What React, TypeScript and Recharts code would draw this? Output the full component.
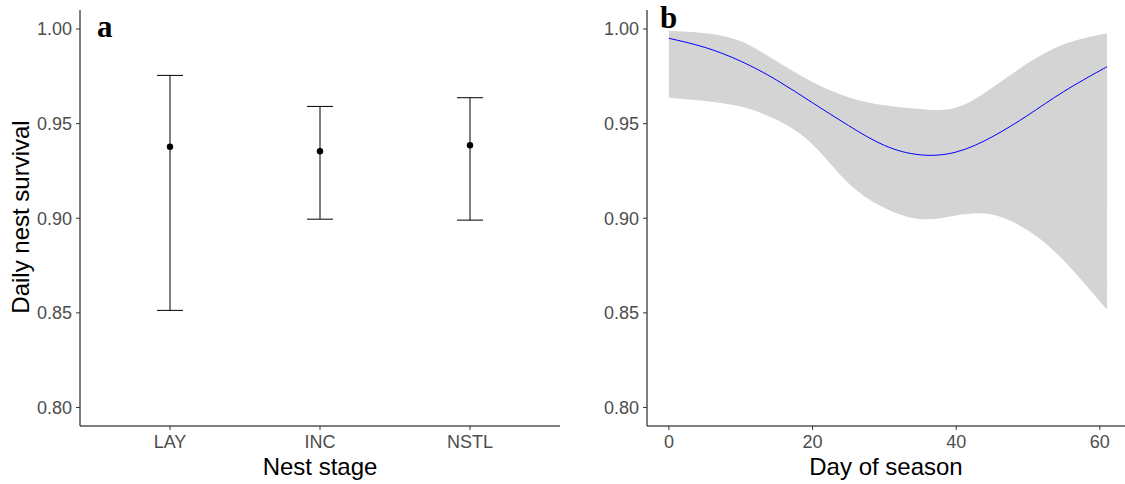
import {
  ComposedChart,
  Scatter,
  ErrorBar,
  Area,
  Line,
  XAxis,
  YAxis,
} from 'recharts'

// panel a: nest stage estimates
const stages = ['LAY', 'INC', 'NSTL']
const stageMean = [0.9378, 0.9354, 0.9386]
const stageLow = [0.8513, 0.8995, 0.899]
const stageHigh = [0.9755, 0.9591, 0.9637]

// panel b: smooth over day of season
const days = [0, 5, 10, 15, 20, 25, 30, 35, 40, 45, 50, 55, 60, 61]
const dayFit = [0.9951, 0.9903, 0.983, 0.973, 0.961, 0.949, 0.9385, 0.9335, 0.935, 0.943, 0.9545, 0.967, 0.978, 0.98]
const dayUpper = [0.9989, 0.9978, 0.9935, 0.983, 0.972, 0.964, 0.9597, 0.9577, 0.9585, 0.969, 0.982, 0.992, 0.997, 0.9975]
const dayLower = [0.9637, 0.962, 0.959, 0.952, 0.939, 0.9185, 0.9055, 0.8995, 0.9015, 0.902, 0.8935, 0.8775, 0.856, 0.8522]

const yTicks = [0.8, 0.85, 0.9, 0.95, 1.0]
const dayTicks = [0, 20, 40, 60]

const Y_DOMAIN: [number, number] = [0.7902, 1.01005]
const TICK = { fontFamily: 'Liberation Sans, Arial, sans-serif', fontSize: 18, fill: '#4d4d4d' }
const TITLE = { fontFamily: 'Liberation Sans, Arial, sans-serif', fontSize: 24, fill: '#000' }
const LETTER = { fontFamily: 'Liberation Serif, Times New Roman, serif', fontSize: 31, fontWeight: 700, fill: '#000' }

const stageData = stages.map((name, i) => ({
  pos: i + 1,
  name,
  mean: stageMean[i],
  err: [stageMean[i] - stageLow[i], stageHigh[i] - stageMean[i]],
}))

const dayData = days.map((day, i) => ({
  day,
  fit: dayFit[i],
  band: [dayLower[i], dayUpper[i]],
}))

const Dot = (props: any) => <circle cx={props.cx} cy={props.cy} r={3.2} fill="#000" />

export default function App() {
  return (
    <div style={{ position: 'absolute', left: 0, top: 0, width: 1125, height: 484, background: '#fff' }}>
      <div style={{ position: 'absolute', left: 0, top: 0 }}>
        <ComposedChart width={560} height={484} data={stageData} margin={{ top: 10, right: 0, bottom: 0, left: 0 }}>
          <XAxis
            type="number"
            dataKey="pos"
            domain={[0.4, 3.6]}
            ticks={[1, 2, 3]}
            tickFormatter={(v: number) => stages[v - 1]}
            allowDataOverflow
            height={58}
            tick={TICK}
            tickSize={4}
            tickMargin={5}
            axisLine={{ stroke: '#000' }}
            tickLine={{ stroke: '#333' }}
          />
          <YAxis
            type="number"
            domain={Y_DOMAIN}
            ticks={yTicks}
            tickFormatter={(v: number) => v.toFixed(2)}
            allowDataOverflow
            width={80}
            tick={TICK}
            tickSize={4}
            tickMargin={4}
            axisLine={{ stroke: '#000' }}
            tickLine={{ stroke: '#333' }}
          />
          <Scatter dataKey="mean" shape={Dot} isAnimationActive={false}>
            <ErrorBar dataKey="err" direction="y" width={13} stroke="#000" strokeWidth={1} />
          </Scatter>
        </ComposedChart>
      </div>
      <div style={{ position: 'absolute', left: 560, top: 0 }}>
        <ComposedChart width={565} height={484} data={dayData} margin={{ top: 10, right: 0, bottom: 0, left: 0 }}>
          <XAxis
            type="number"
            dataKey="day"
            domain={[-3.05, 63.5]}
            ticks={dayTicks}
            allowDataOverflow
            height={58}
            tick={TICK}
            tickSize={4}
            tickMargin={5}
            axisLine={{ stroke: '#000' }}
            tickLine={{ stroke: '#333' }}
          />
          <YAxis
            type="number"
            domain={Y_DOMAIN}
            ticks={yTicks}
            tickFormatter={(v: number) => v.toFixed(2)}
            allowDataOverflow
            width={87}
            tick={TICK}
            tickSize={4}
            tickMargin={4}
            axisLine={{ stroke: '#000' }}
            tickLine={{ stroke: '#333' }}
          />
          <Area
            type="natural"
            dataKey="band"
            stroke="none"
            fill="#d4d4d4"
            fillOpacity={1}
            isAnimationActive={false}
          />
          <Line
            type="natural"
            dataKey="fit"
            stroke="#0000ff"
            strokeWidth={1}
            dot={false}
            isAnimationActive={false}
          />
        </ComposedChart>
      </div>
      <svg width={1125} height={484} style={{ position: 'absolute', left: 0, top: 0, pointerEvents: 'none' }}>
        <text x={97} y={37} style={LETTER}>a</text>
        <text x={660} y={28} style={LETTER}>b</text>
        <text transform="translate(29,217) rotate(-90)" textAnchor="middle" style={TITLE}>Daily nest survival</text>
        <text x={320} y={475} textAnchor="middle" style={TITLE}>Nest stage</text>
        <text x={886} y={475} textAnchor="middle" style={TITLE}>Day of season</text>
      </svg>
    </div>
  )
}
